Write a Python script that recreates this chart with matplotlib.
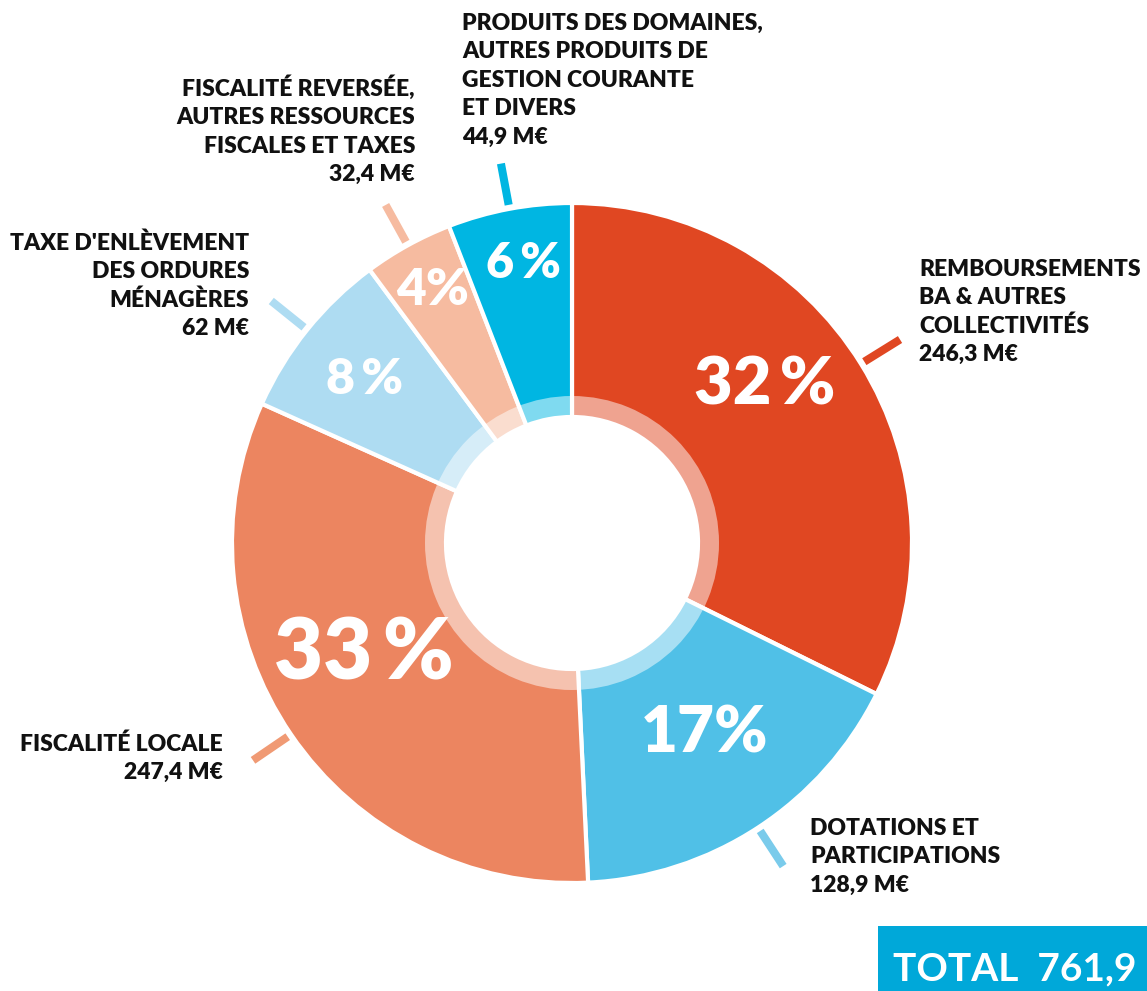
import numpy as np
import matplotlib
matplotlib.use('Agg')
import matplotlib.pyplot as plt
from matplotlib.patches import Wedge, Rectangle

W, H = 1147, 991

# data, clockwise from 12 o'clock
labels = [
    ['REMBOURSEMENTS', 'BA & AUTRES', 'COLLECTIVITÉS', '246,3 M€'],
    ['DOTATIONS ET', 'PARTICIPATIONS', '128,9 M€'],
    ['FISCALITÉ LOCALE', '247,4 M€'],
    ["TAXE D'ENLÈVEMENT", 'DES ORDURES', 'MÉNAGÈRES', '62 M€'],
    ['FISCALITÉ REVERSÉE,', 'AUTRES RESSOURCES', 'FISCALES ET TAXES', '32,4 M€'],
    ['PRODUITS DES DOMAINES,', 'AUTRES PRODUITS DE', 'GESTION COURANTE', 'ET DIVERS', '44,9 M€'],
]
values = [246.3, 128.9, 247.4, 62, 32.4, 44.9]
pct_text = ['32\u2009%', '17%', '33\u2009%', '8\u2009%', '4%', '6\u2009%']
total_text = 'TOTAL  761,9'

colors = ['#E04722', '#50C0E7', '#EC8560', '#AEDCF2', '#F6BBA0', '#00B6E2']
tick_colors = ['#E04722', '#7ACBEB', '#F09A74', '#AEDCF2', '#F6BBA0', '#00B6E2']

# layout (pixel coords, y measured from top)
cx, cy = 572, 543
R_OUT, R_RING, R_HOLE = 340, 147, 126
pct_pos = [(765, 385), (705, 734), (364, 655), (365, 379), (433, 290), (523, 263)]
pct_size = [48, 46, 61, 36, 37, 35]
lab_pos = [(919, 276, 'left'), (810, 835, 'left'), (223, 751, 'right'),
           (249, 250, 'right'), (415, 96, 'right'), (462, 30, 'left')]
PITCH = 28.4

plt.rcParams['font.family'] = ['Lato', 'DejaVu Sans']

fig = plt.figure(figsize=(W / 100, H / 100), dpi=100)
ax = fig.add_axes([0, 0, 1, 1])


def fy(y):
    return H - y


wedges, _ = ax.pie(values, radius=R_OUT, center=(cx, fy(cy)), startangle=90,
                   counterclock=False, colors=colors,
                   wedgeprops=dict(width=R_OUT - R_HOLE, edgecolor='white', linewidth=3))

# lighter inner ring
ax.add_patch(Wedge((cx, fy(cy)), R_RING, 0, 360, width=R_RING - R_HOLE,
                   facecolor=(1, 1, 1, 0.5), edgecolor='none', zorder=3))

for w, c in zip(wedges, tick_colors):
    a = np.deg2rad((w.theta1 + w.theta2) / 2)
    r = np.array([344, 386])
    ax.plot(cx + r * np.cos(a), fy(cy) + r * np.sin(a), color=c, lw=5.8,
            solid_capstyle='butt', zorder=4)

for (x, y), t, s in zip(pct_pos, pct_text, pct_size):
    ax.text(x, fy(y), t, color='white', fontsize=s, fontweight='heavy',
            ha='center', va='center', zorder=5)

for (x, y, ha), lines in zip(lab_pos, labels):
    for i, line in enumerate(lines):
        ax.text(x, fy(y + i * PITCH), line, fontsize=16.5, fontweight='heavy',
                color='#111111', ha=ha, va='baseline')

ax.add_patch(Rectangle((878, 0), W - 878, H - 926, facecolor='#00A8D9',
                       edgecolor='none'))
ax.text(893, fy(980), total_text, color='white', fontsize=28, fontweight='bold',
        ha='left', va='baseline')

ax.set_xlim(0, W)
ax.set_ylim(0, H)
ax.axis('off')

fig.savefig('out.png', dpi=100)
